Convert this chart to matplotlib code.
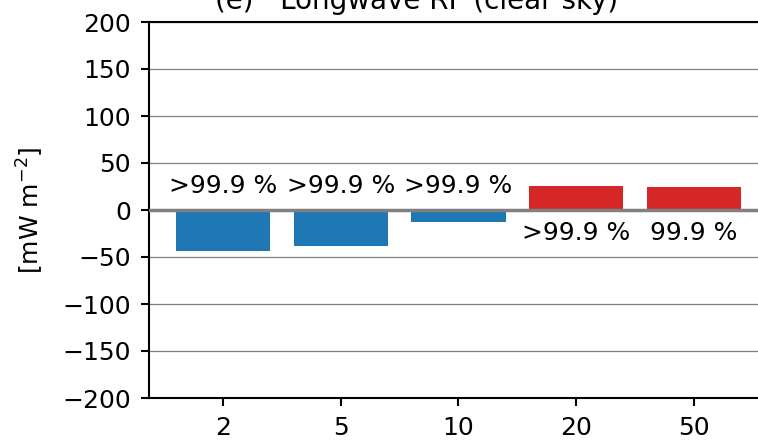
import matplotlib
matplotlib.use("Agg")
import matplotlib.pyplot as plt

categories = ["2", "5", "10", "20", "50"]
values = [-44, -38, -12.5, 25.5, 24.5]
labels = [">99.9 %", ">99.9 %", ">99.9 %", ">99.9 %", "99.9 %"]
colors = ["#1f77b4", "#1f77b4", "#1f77b4", "#d62728", "#d62728"]
yticks = [-200, -150, -100, -50, 0, 50, 100, 150, 200]

fig = plt.figure(figsize=(7.58, 4.41), dpi=100)
ax = fig.add_axes([149/758, 43/441, 1 - 149/758, 376/441])

x = list(range(len(categories)))
for yv in yticks:
    if yv != 0:
        ax.axhline(yv, color="gray", lw=0.9, zorder=0)
ax.bar(x, values, width=0.8, color=colors, zorder=2)
ax.axhline(0, color="gray", lw=2.5, zorder=3)

for xi, v, lab in zip(x, values, labels):
    ty = 26 if v < 0 else -24
    ax.text(xi, ty, lab, ha="center", va="center", fontsize=18, zorder=4)

ax.set_xlim(-0.628, 4.544)
ax.set_ylim(-200, 200)
ax.set_yticks(yticks)
ax.set_yticklabels([str(t).replace("-", "\u2212") for t in yticks])
ax.set_xticks(x)
ax.set_xticklabels(categories)
ax.tick_params(labelsize=18, width=1.5, length=6, pad=7)
for s in ["left", "bottom", "top"]:
    ax.spines[s].set_linewidth(1.5)
ax.spines["right"].set_visible(False)
ax.set_ylabel("[mW m$^{-2}$]", fontsize=18, labelpad=12)

fig.text(417/758, 1 - 9/441, "(e)   Longwave RF (clear sky)", ha="center",
         va="baseline", fontsize=20)

fig.savefig("out.png", dpi=100)
